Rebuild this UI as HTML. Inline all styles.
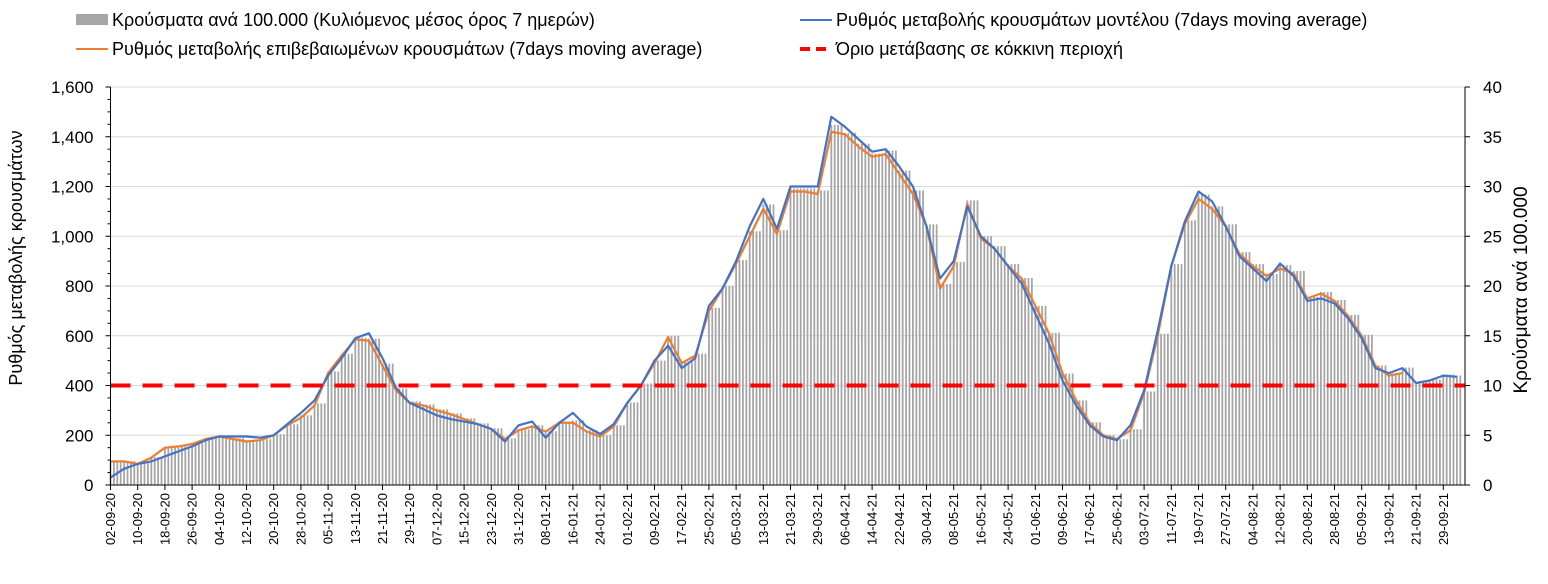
<!DOCTYPE html>
<html><head><meta charset="utf-8"><style>
body{margin:0;background:#fff;}
svg text{font-family:"Liberation Sans","DejaVu Sans",sans-serif;}
</style></head><body>
<svg id="chart" width="1548" height="579" xmlns="http://www.w3.org/2000/svg">
<g font-size="18" fill="#000">
 <rect x="76" y="14" width="32" height="11" fill="#a6a6a6"/>
 <text x="112" y="26">Κρούσματα ανά 100.000 (Κυλιόμενος μέσος όρος 7 ημερών)</text>
 <line x1="76" y1="49" x2="108" y2="49" stroke="#ed7d31" stroke-width="2"/>
 <text x="112" y="55">Ρυθμός μεταβολής επιβεβαιωμένων κρουσμάτων (7days moving average)</text>
 <line x1="800" y1="20" x2="832" y2="20" stroke="#4472c4" stroke-width="2"/>
 <text x="836" y="26">Ρυθμός μεταβολής κρουσμάτων μοντέλου (7days moving average)</text>
 <line x1="800" y1="49" x2="832" y2="49" stroke="#ff0000" stroke-width="4" stroke-dasharray="10,6"/>
 <text x="836" y="55">Όριο μετάβασης σε κόκκινη περιοχή</text>
</g>
<text transform="translate(22,258) rotate(-90)" text-anchor="middle" font-size="18">Ρυθμός μεταβολής κρουσμάτων</text>
<text transform="translate(1527,290) rotate(-90)" text-anchor="middle" font-size="19">Κρούσματα ανά 100.000</text>
<g id="grid"></g><g id="bars"></g><g id="lines"></g><g id="axes"></g>
</svg>
<script>
const tickLabels=["02-09-20","10-09-20","18-09-20","26-09-20","04-10-20","12-10-20","20-10-20","28-10-20","05-11-20","13-11-20","21-11-20","29-11-20","07-12-20","15-12-20","23-12-20","31-12-20","08-01-21","16-01-21","24-01-21","01-02-21","09-02-21","17-02-21","25-02-21","05-03-21","13-03-21","21-03-21","29-03-21","06-04-21","14-04-21","22-04-21","30-04-21","08-05-21","16-05-21","24-05-21","01-06-21","09-06-21","17-06-21","25-06-21","03-07-21","11-07-21","19-07-21","27-07-21","04-08-21","12-08-21","20-08-21","28-08-21","05-09-21","13-09-21","21-09-21","29-09-21"];
const leftTicks=[0,200,400,600,800,1000,1200,1400,1600];
const rightTicks=[0,5,10,15,20,25,30,35,40];
const stepDays=4;
const blue=[30,65,85,95,115,135,155,180,195,195,195,190,200,245,290,340,440,510,590,610,510,390,330,305,280,265,255,245,225,175,240,255,190,250,290,235,205,245,330,400,500,560,470,510,720,790,900,1040,1150,1030,1200,1200,1200,1480,1440,1390,1340,1350,1280,1200,1040,830,900,1120,1000,950,880,810,690,570,420,320,240,195,180,240,380,620,880,1060,1180,1140,1040,920,870,820,890,840,740,750,730,670,590,470,450,470,410,420,440,435];
const orange=[95,95,85,110,150,155,165,185,195,185,175,180,200,240,270,320,450,520,585,580,480,380,330,320,300,285,265,245,225,185,220,235,215,250,250,215,195,235,330,400,490,595,490,520,700,790,890,1000,1110,1010,1180,1180,1170,1420,1410,1360,1320,1330,1250,1170,1040,790,880,1130,990,950,880,830,720,610,450,340,250,200,185,220,370,600,880,1050,1150,1110,1040,930,880,840,870,850,750,770,740,680,600,480,440,450,null,null,null,null];
const bars=[2.3,2.4,2.2,2.8,3.8,3.9,4.2,4.7,4.9,4.7,4.5,4.6,5.1,6.1,7.0,8.2,11.4,13.2,14.8,14.7,12.2,9.7,8.4,8.1,7.6,7.2,6.7,6.2,5.7,4.7,5.6,6.0,5.4,6.4,6.5,5.5,5.0,6.0,8.3,10.2,12.5,15.0,12.4,13.2,17.8,20.0,22.6,25.5,28.2,25.6,29.8,29.8,29.6,36.2,35.4,34.3,33.3,33.6,31.6,29.6,26.2,20.2,22.4,28.6,25.0,24.0,22.2,20.8,18.0,15.3,11.2,8.5,6.3,5.0,4.6,5.6,9.4,15.2,22.2,26.6,29.2,28.0,26.2,23.4,22.2,21.2,22.1,21.5,18.9,19.4,18.6,17.1,15.1,12.0,11.2,11.8,10.3,10.6,11.1,11.0];
const threshold=400;
const NS="http://www.w3.org/2000/svg";
const X0=110.5,PXD=3.4,YB=485,YT=87;
function xDay(d){return X0+PXD*d;}
function yL(v){return YB-(v/1600)*(YB-YT);}
function yR(v){return YB-(v/40)*(YB-YT);}
function mk(t,a,p){const e=document.createElementNS(NS,t);for(const k in a)e.setAttribute(k,a[k]);p.appendChild(e);return e;}
const grid=document.getElementById('grid'),barsG=document.getElementById('bars'),lines=document.getElementById('lines'),axes=document.getElementById('axes');
const XR=1465;
leftTicks.forEach((v,i)=>{if(v>0){const g=mk('line',{x1:X0,x2:XR,y1:yL(v),y2:yL(v),stroke:'#d9d9d9','stroke-width':1},grid);

}
const t=mk('text',{x:X0-17,y:yL(v)+6,'text-anchor':'end','font-size':17},axes);t.textContent=v.toLocaleString('en-US');


mk('line',{x1:X0-5,x2:X0,y1:yL(v),y2:yL(v),stroke:'#000'},axes);});
for(let v=50;v<1600;v+=50){if(v%200)mk('line',{x1:X0-3,x2:X0,y1:yL(v),y2:yL(v),stroke:'#000'},axes);}
rightTicks.forEach(v=>{const t=mk('text',{x:XR+18,y:yR(v)+6,'font-size':17},axes);t.textContent=v;


mk('line',{x1:XR,x2:XR+5,y1:yR(v),y2:yR(v),stroke:'#000'},axes);});
bars.forEach((v,i)=>{for(let j=0;j<stepDays;j++){const d=i*stepDays+j;const x=xDay(d);if(x>XR-2)continue;
const r=mk('rect',{x:x-0.9,y:yR(v),width:1.8,height:YB-yR(v),fill:'#a6a6a6'},barsG);

}});
function path(arr){let s='',pen=false;arr.forEach((v,i)=>{if(v==null){pen=false;return;}s+=(pen?'L':'M')+xDay(i*stepDays).toFixed(1)+','+yL(v).toFixed(1);pen=true;});return s;}
const po=mk('path',{d:path(orange),fill:'none',stroke:'#ed7d31','stroke-width':2.2,'stroke-linejoin':'round'},lines);


const pb=mk('path',{d:path(blue),fill:'none',stroke:'#4472c4','stroke-width':2.2,'stroke-linejoin':'round'},lines);


const th=mk('line',{x1:X0,x2:XR,y1:yL(threshold),y2:yL(threshold),stroke:'#ff0000','stroke-width':4,'stroke-dasharray':'20,12'},lines);


mk('line',{x1:X0,x2:X0,y1:YT,y2:YB,stroke:'#000'},axes);
mk('line',{x1:XR,x2:XR,y1:YT,y2:YB,stroke:'#000'},axes);
mk('line',{x1:X0,x2:XR,y1:YB,y2:YB,stroke:'#000'},axes);
tickLabels.forEach((l,k)=>{const x=xDay(k*8);mk('line',{x1:x,x2:x,y1:YB,y2:YB+5,stroke:'#000'},axes);
const t=mk('text',{transform:`translate(${x+4.5},${YB+8}) rotate(-90)`,'text-anchor':'end','font-size':13},axes);t.textContent=l;

});
</script>
</body></html>
